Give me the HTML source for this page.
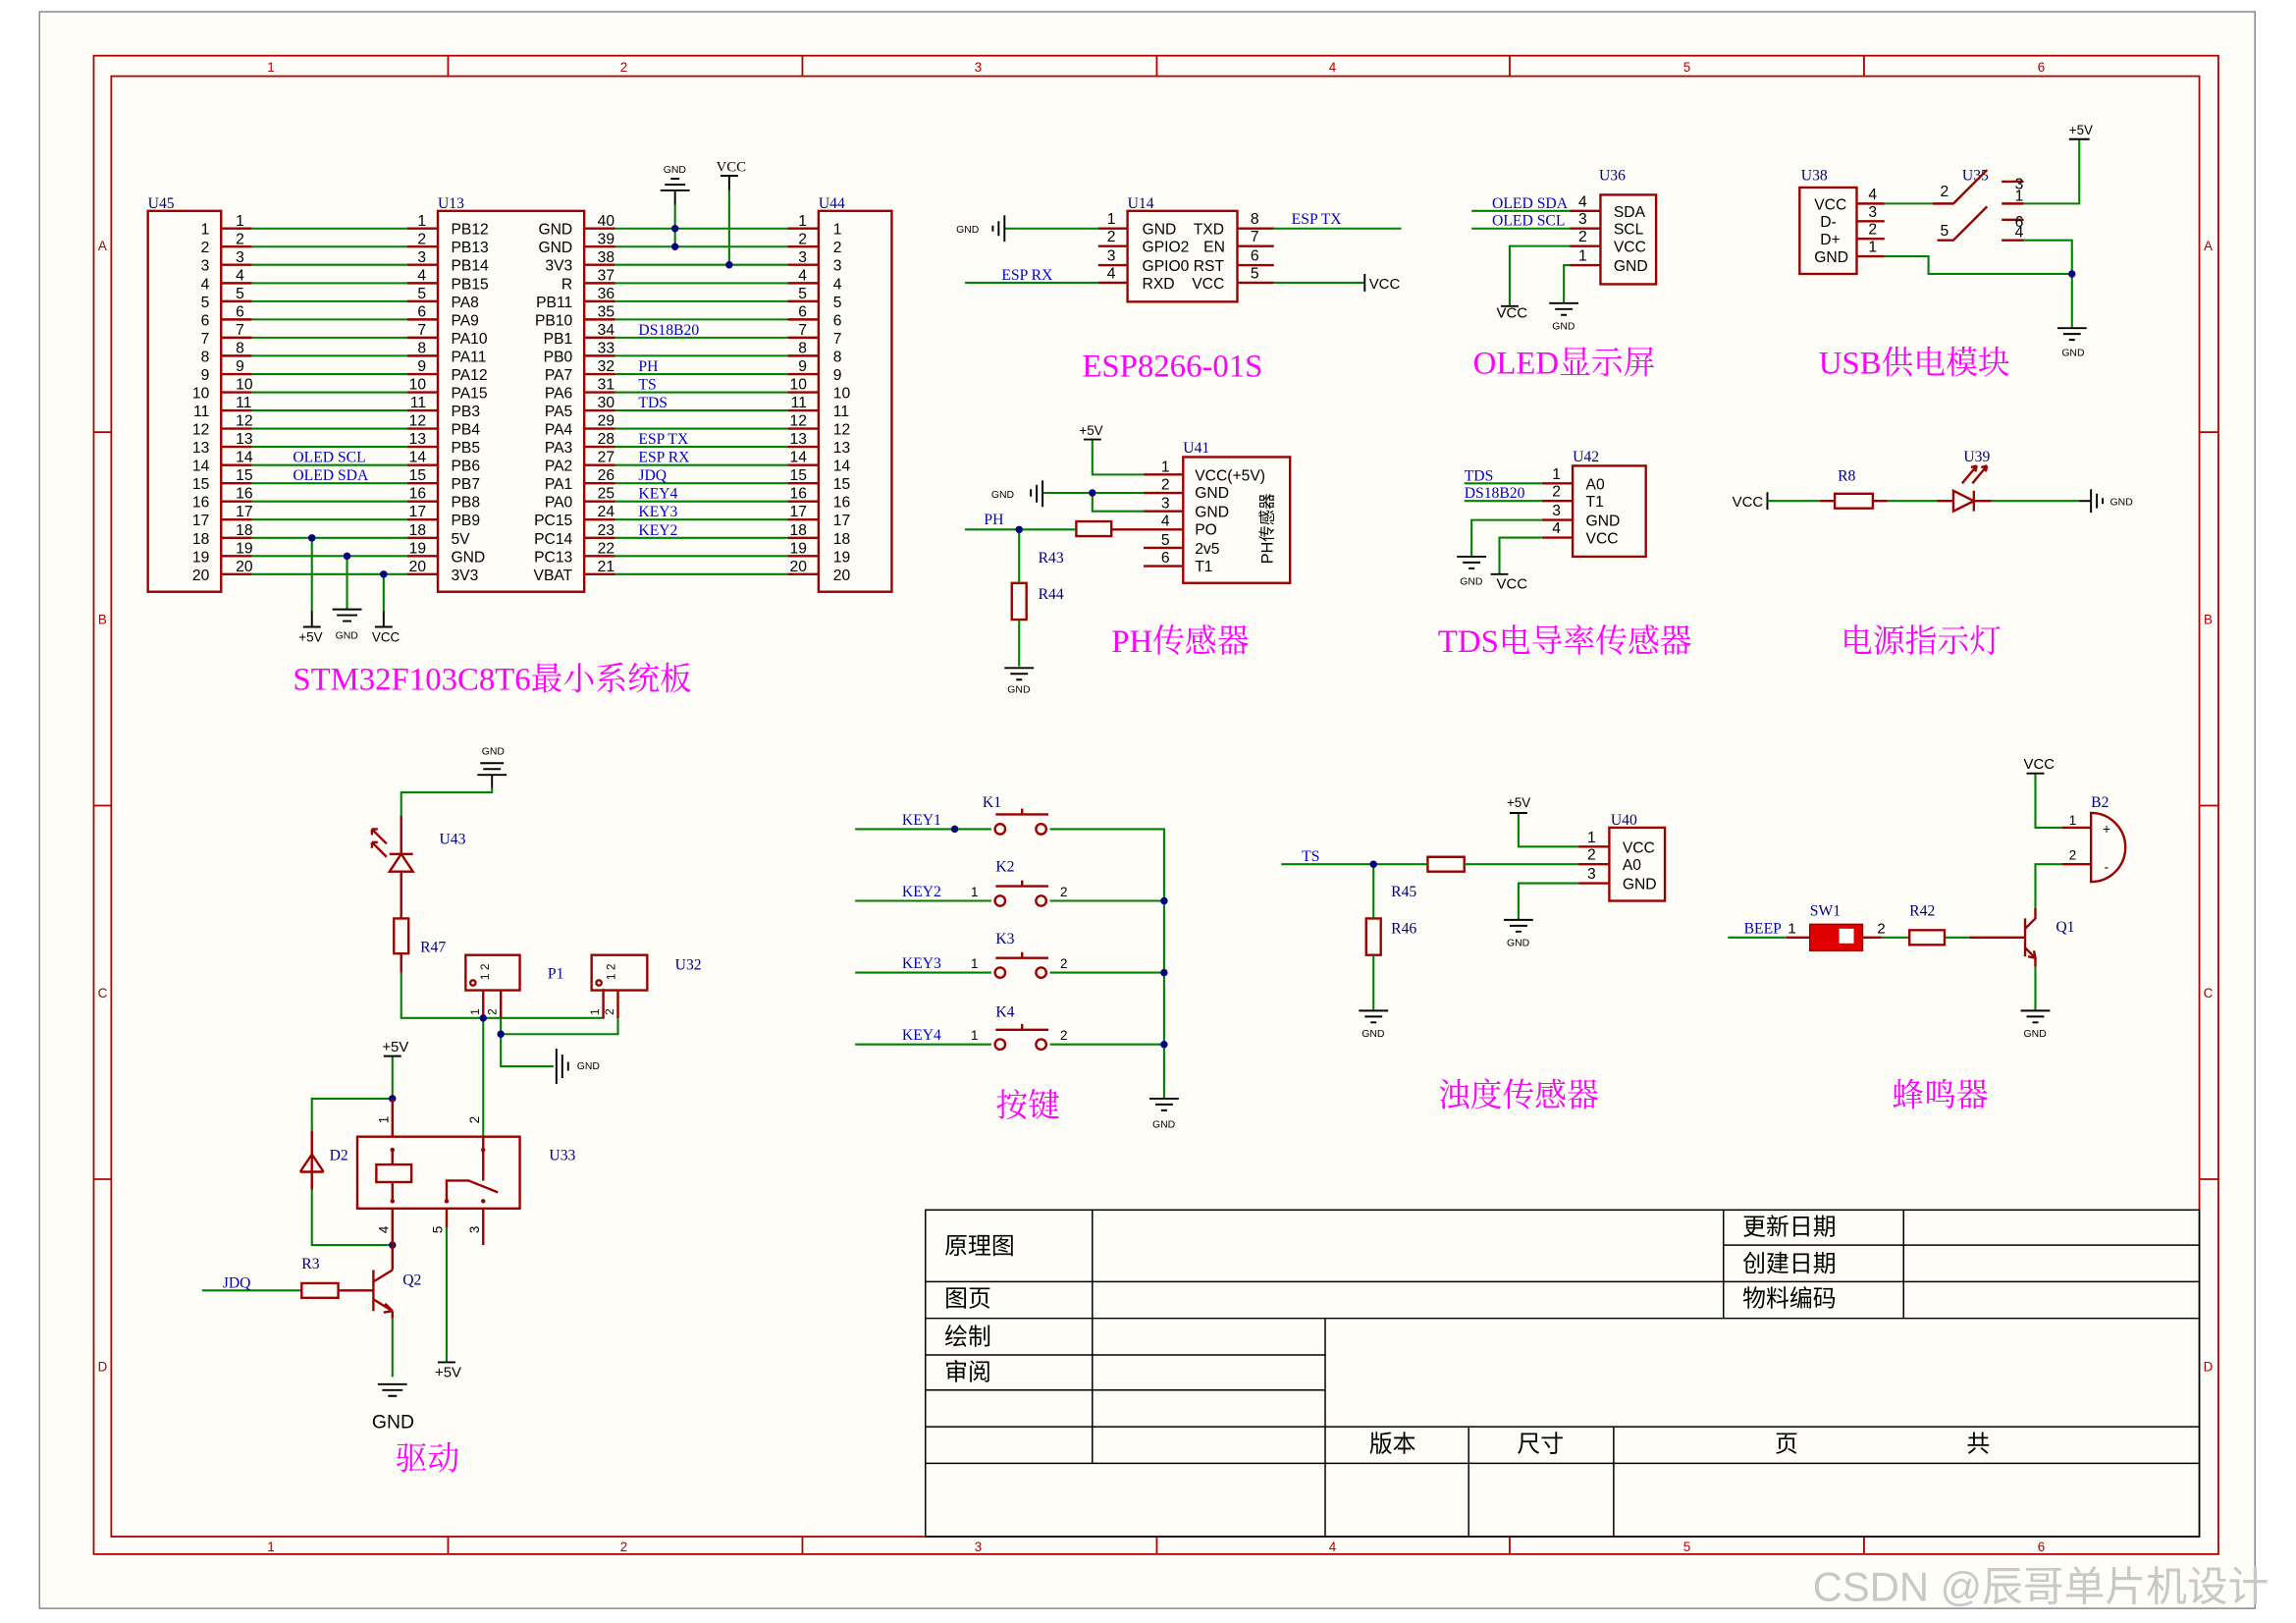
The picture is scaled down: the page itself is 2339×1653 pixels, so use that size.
<!DOCTYPE html>
<html><head><meta charset="utf-8"><style>
html,body{margin:0;padding:0;background:#fff}
svg{display:block}
text{font-family:"Liberation Sans","Noto Sans CJK SC",sans-serif;font-size:10.5px;fill:#000}
.e{text-anchor:end}
.n{font-family:"Liberation Serif","Noto Serif CJK SC",serif;fill:#0000c8;font-size:10.5px}
.lb{font-family:"Liberation Serif","Noto Serif CJK SC",serif;fill:#000080;font-size:10.5px}
.t{font-family:"Liberation Serif","Noto Serif CJK SC",serif;fill:#ff00ff;font-size:22px}
.tb{font-family:"Liberation Sans","Noto Sans CJK SC",sans-serif;font-size:16px;fill:#000}
.s{font-size:7px}
.r{stroke:#9b0000;stroke-width:1.6;fill:none}
.g{stroke:#008000;stroke-width:1.4;fill:none}
.k{stroke:#000;stroke-width:1.3;fill:none}
.fr{stroke:#b00000;stroke-width:1.2;fill:none}
.j{fill:#000080}
</style></head><body>
<svg width="2339" height="1653" viewBox="0 0 1568 1108" preserveAspectRatio="none" xmlns="http://www.w3.org/2000/svg">
<rect width="1568" height="1108" fill="#fff"/>
<rect x="27" y="8" width="1513" height="1090" fill="#fffdf8" stroke="#888" stroke-width="1"/>
<!-- frame -->
<rect x="64" y="38" width="1451" height="1023" class="fr"/>
<rect x="76" y="52" width="1426" height="997" class="fr"/>
<path class="fr" d="M306 38v14M548 38v14M790 38v14M1031 38v14M1273 38v14M306 1049v12M548 1049v12M790 1049v12M1031 1049v12M1273 1049v12M64 295h12M64 550h12M64 805h12M1502 295h13M1502 550h13M1502 805h13"/>
<g style="font-size:9px;fill:#b00000" text-anchor="middle">
<text x="185" y="49" style="fill:#b00000;font-size:9px">1</text><text x="426" y="49" style="fill:#b00000;font-size:9px">2</text><text x="668" y="49" style="fill:#b00000;font-size:9px">3</text><text x="910" y="49" style="fill:#b00000;font-size:9px">4</text><text x="1152" y="49" style="fill:#b00000;font-size:9px">5</text><text x="1394" y="49" style="fill:#b00000;font-size:9px">6</text>
<text x="185" y="1059" style="fill:#b00000;font-size:9px">1</text><text x="426" y="1059" style="fill:#b00000;font-size:9px">2</text><text x="668" y="1059" style="fill:#b00000;font-size:9px">3</text><text x="910" y="1059" style="fill:#b00000;font-size:9px">4</text><text x="1152" y="1059" style="fill:#b00000;font-size:9px">5</text><text x="1394" y="1059" style="fill:#b00000;font-size:9px">6</text>
<text x="70" y="171" style="fill:#b00000;font-size:9px">A</text><text x="70" y="426" style="fill:#b00000;font-size:9px">B</text><text x="70" y="681" style="fill:#b00000;font-size:9px">C</text><text x="70" y="936" style="fill:#b00000;font-size:9px">D</text>
<text x="1508" y="171" style="fill:#b00000;font-size:9px">A</text><text x="1508" y="426" style="fill:#b00000;font-size:9px">B</text><text x="1508" y="681" style="fill:#b00000;font-size:9px">C</text><text x="1508" y="936" style="fill:#b00000;font-size:9px">D</text>
</g>

<!-- MCU section -->
<rect x="101" y="144" width="50" height="260" class="r"/>
<rect x="299" y="144" width="100" height="260" class="r"/>
<rect x="559" y="144" width="50" height="260" class="r"/>
<text x="101" y="142" class="lb">U45</text><text x="299" y="142" class="lb">U13</text><text x="559" y="142" class="lb">U44</text>
<g id="rows">
<g transform="translate(0,156)"><path class="r" d="M151 0h21M278 0h21M399 0h21M538 0h21"/><path class="g" d="M172 0h106M420 0h118"/><text x="143" y="4" class="e">1</text><text x="161" y="-2">1</text><text x="291" y="-2" class="e">1</text><text x="308" y="4">PB12</text><text x="391" y="4" class="e">GND</text><text x="408" y="-2">40</text><text x="551" y="-2" class="e">1</text><text x="569" y="4">1</text></g>
<g transform="translate(0,168.4)"><path class="r" d="M151 0h21M278 0h21M399 0h21M538 0h21"/><path class="g" d="M172 0h106M420 0h118"/><text x="143" y="4" class="e">2</text><text x="161" y="-2">2</text><text x="291" y="-2" class="e">2</text><text x="308" y="4">PB13</text><text x="391" y="4" class="e">GND</text><text x="408" y="-2">39</text><text x="551" y="-2" class="e">2</text><text x="569" y="4">2</text></g>
<g transform="translate(0,180.8)"><path class="r" d="M151 0h21M278 0h21M399 0h21M538 0h21"/><path class="g" d="M172 0h106M420 0h118"/><text x="143" y="4" class="e">3</text><text x="161" y="-2">3</text><text x="291" y="-2" class="e">3</text><text x="308" y="4">PB14</text><text x="391" y="4" class="e">3V3</text><text x="408" y="-2">38</text><text x="551" y="-2" class="e">3</text><text x="569" y="4">3</text></g>
<g transform="translate(0,193.3)"><path class="r" d="M151 0h21M278 0h21M399 0h21M538 0h21"/><path class="g" d="M172 0h106M420 0h118"/><text x="143" y="4" class="e">4</text><text x="161" y="-2">4</text><text x="291" y="-2" class="e">4</text><text x="308" y="4">PB15</text><text x="391" y="4" class="e">R</text><text x="408" y="-2">37</text><text x="551" y="-2" class="e">4</text><text x="569" y="4">4</text></g>
<g transform="translate(0,205.7)"><path class="r" d="M151 0h21M278 0h21M399 0h21M538 0h21"/><path class="g" d="M172 0h106M420 0h118"/><text x="143" y="4" class="e">5</text><text x="161" y="-2">5</text><text x="291" y="-2" class="e">5</text><text x="308" y="4">PA8</text><text x="391" y="4" class="e">PB11</text><text x="408" y="-2">36</text><text x="551" y="-2" class="e">5</text><text x="569" y="4">5</text></g>
<g transform="translate(0,218.1)"><path class="r" d="M151 0h21M278 0h21M399 0h21M538 0h21"/><path class="g" d="M172 0h106M420 0h118"/><text x="143" y="4" class="e">6</text><text x="161" y="-2">6</text><text x="291" y="-2" class="e">6</text><text x="308" y="4">PA9</text><text x="391" y="4" class="e">PB10</text><text x="408" y="-2">35</text><text x="551" y="-2" class="e">6</text><text x="569" y="4">6</text></g>
<g transform="translate(0,230.5)"><path class="r" d="M151 0h21M278 0h21M399 0h21M538 0h21"/><path class="g" d="M172 0h106M420 0h118"/><text x="143" y="4" class="e">7</text><text x="161" y="-2">7</text><text x="291" y="-2" class="e">7</text><text x="308" y="4">PA10</text><text x="391" y="4" class="e">PB1</text><text x="408" y="-2">34</text><text x="436" y="-2" class="n">DS18B20</text><text x="551" y="-2" class="e">7</text><text x="569" y="4">7</text></g>
<g transform="translate(0,242.9)"><path class="r" d="M151 0h21M278 0h21M399 0h21M538 0h21"/><path class="g" d="M172 0h106M420 0h118"/><text x="143" y="4" class="e">8</text><text x="161" y="-2">8</text><text x="291" y="-2" class="e">8</text><text x="308" y="4">PA11</text><text x="391" y="4" class="e">PB0</text><text x="408" y="-2">33</text><text x="551" y="-2" class="e">8</text><text x="569" y="4">8</text></g>
<g transform="translate(0,255.4)"><path class="r" d="M151 0h21M278 0h21M399 0h21M538 0h21"/><path class="g" d="M172 0h106M420 0h118"/><text x="143" y="4" class="e">9</text><text x="161" y="-2">9</text><text x="291" y="-2" class="e">9</text><text x="308" y="4">PA12</text><text x="391" y="4" class="e">PA7</text><text x="408" y="-2">32</text><text x="436" y="-2" class="n">PH</text><text x="551" y="-2" class="e">9</text><text x="569" y="4">9</text></g>
<g transform="translate(0,267.8)"><path class="r" d="M151 0h21M278 0h21M399 0h21M538 0h21"/><path class="g" d="M172 0h106M420 0h118"/><text x="143" y="4" class="e">10</text><text x="161" y="-2">10</text><text x="291" y="-2" class="e">10</text><text x="308" y="4">PA15</text><text x="391" y="4" class="e">PA6</text><text x="408" y="-2">31</text><text x="436" y="-2" class="n">TS</text><text x="551" y="-2" class="e">10</text><text x="569" y="4">10</text></g>
<g transform="translate(0,280.2)"><path class="r" d="M151 0h21M278 0h21M399 0h21M538 0h21"/><path class="g" d="M172 0h106M420 0h118"/><text x="143" y="4" class="e">11</text><text x="161" y="-2">11</text><text x="291" y="-2" class="e">11</text><text x="308" y="4">PB3</text><text x="391" y="4" class="e">PA5</text><text x="408" y="-2">30</text><text x="436" y="-2" class="n">TDS</text><text x="551" y="-2" class="e">11</text><text x="569" y="4">11</text></g>
<g transform="translate(0,292.6)"><path class="r" d="M151 0h21M278 0h21M399 0h21M538 0h21"/><path class="g" d="M172 0h106M420 0h118"/><text x="143" y="4" class="e">12</text><text x="161" y="-2">12</text><text x="291" y="-2" class="e">12</text><text x="308" y="4">PB4</text><text x="391" y="4" class="e">PA4</text><text x="408" y="-2">29</text><text x="551" y="-2" class="e">12</text><text x="569" y="4">12</text></g>
<g transform="translate(0,305)"><path class="r" d="M151 0h21M278 0h21M399 0h21M538 0h21"/><path class="g" d="M172 0h106M420 0h118"/><text x="143" y="4" class="e">13</text><text x="161" y="-2">13</text><text x="291" y="-2" class="e">13</text><text x="308" y="4">PB5</text><text x="391" y="4" class="e">PA3</text><text x="408" y="-2">28</text><text x="436" y="-2" class="n">ESP TX</text><text x="551" y="-2" class="e">13</text><text x="569" y="4">13</text></g>
<g transform="translate(0,317.5)"><path class="r" d="M151 0h21M278 0h21M399 0h21M538 0h21"/><path class="g" d="M172 0h106M420 0h118"/><text x="143" y="4" class="e">14</text><text x="161" y="-2">14</text><text x="200" y="-2" class="n">OLED SCL</text><text x="291" y="-2" class="e">14</text><text x="308" y="4">PB6</text><text x="391" y="4" class="e">PA2</text><text x="408" y="-2">27</text><text x="436" y="-2" class="n">ESP RX</text><text x="551" y="-2" class="e">14</text><text x="569" y="4">14</text></g>
<g transform="translate(0,329.9)"><path class="r" d="M151 0h21M278 0h21M399 0h21M538 0h21"/><path class="g" d="M172 0h106M420 0h118"/><text x="143" y="4" class="e">15</text><text x="161" y="-2">15</text><text x="200" y="-2" class="n">OLED SDA</text><text x="291" y="-2" class="e">15</text><text x="308" y="4">PB7</text><text x="391" y="4" class="e">PA1</text><text x="408" y="-2">26</text><text x="436" y="-2" class="n">JDQ</text><text x="551" y="-2" class="e">15</text><text x="569" y="4">15</text></g>
<g transform="translate(0,342.3)"><path class="r" d="M151 0h21M278 0h21M399 0h21M538 0h21"/><path class="g" d="M172 0h106M420 0h118"/><text x="143" y="4" class="e">16</text><text x="161" y="-2">16</text><text x="291" y="-2" class="e">16</text><text x="308" y="4">PB8</text><text x="391" y="4" class="e">PA0</text><text x="408" y="-2">25</text><text x="436" y="-2" class="n">KEY4</text><text x="551" y="-2" class="e">16</text><text x="569" y="4">16</text></g>
<g transform="translate(0,354.7)"><path class="r" d="M151 0h21M278 0h21M399 0h21M538 0h21"/><path class="g" d="M172 0h106M420 0h118"/><text x="143" y="4" class="e">17</text><text x="161" y="-2">17</text><text x="291" y="-2" class="e">17</text><text x="308" y="4">PB9</text><text x="391" y="4" class="e">PC15</text><text x="408" y="-2">24</text><text x="436" y="-2" class="n">KEY3</text><text x="551" y="-2" class="e">17</text><text x="569" y="4">17</text></g>
<g transform="translate(0,367.2)"><path class="r" d="M151 0h21M278 0h21M399 0h21M538 0h21"/><path class="g" d="M172 0h106M420 0h118"/><text x="143" y="4" class="e">18</text><text x="161" y="-2">18</text><text x="291" y="-2" class="e">18</text><text x="308" y="4">5V</text><text x="391" y="4" class="e">PC14</text><text x="408" y="-2">23</text><text x="436" y="-2" class="n">KEY2</text><text x="551" y="-2" class="e">18</text><text x="569" y="4">18</text></g>
<g transform="translate(0,379.6)"><path class="r" d="M151 0h21M278 0h21M399 0h21M538 0h21"/><path class="g" d="M172 0h106M420 0h118"/><text x="143" y="4" class="e">19</text><text x="161" y="-2">19</text><text x="291" y="-2" class="e">19</text><text x="308" y="4">GND</text><text x="391" y="4" class="e">PC13</text><text x="408" y="-2">22</text><text x="551" y="-2" class="e">19</text><text x="569" y="4">19</text></g>
<g transform="translate(0,392)"><path class="r" d="M151 0h21M278 0h21M399 0h21M538 0h21"/><path class="g" d="M172 0h106M420 0h118"/><text x="143" y="4" class="e">20</text><text x="161" y="-2">20</text><text x="291" y="-2" class="e">20</text><text x="308" y="4">3V3</text><text x="391" y="4" class="e">VBAT</text><text x="408" y="-2">21</text><text x="551" y="-2" class="e">20</text><text x="569" y="4">20</text></g>
</g>
<!-- top GND/VCC -->
<path class="k" d="M451 130h20M454 126h14M458 122h6M461 130v10M498 120v10"/>
<path class="g" d="M461 140v28.4M498 130v50.8"/>
<text x="453" y="118" class="s">GND</text><text x="489" y="117" class="lb" style="font-size:10px;fill:#000">VCC</text>
<path class="k" d="M492 120h12"/>
<circle cx="461" cy="156" r="2.5" class="j"/><circle cx="461" cy="168.4" r="2.5" class="j"/><circle cx="498" cy="180.8" r="2.5" class="j"/>
<!-- bottom -->
<path class="g" d="M213 367.2v50M237 379.6v36M262 392v25"/>
<circle cx="213" cy="367.2" r="2.5" class="j"/><circle cx="237" cy="379.6" r="2.5" class="j"/><circle cx="262" cy="392" r="2.5" class="j"/>
<path class="k" d="M213 417v11M207 428h12M227 416h20M230 420h14M234 424h6M262 417v11M256 428h12"/>
<text x="204" y="438" style="font-size:9px">+5V</text><text x="229" y="436" class="s">GND</text><text x="254" y="438" style="font-size:9px">VCC</text>
<text x="200" y="471" class="t">STM32F103C8T6最小系统板</text>

<!-- ESP8266 -->
<text x="770" y="142" class="lb">U14</text>
<rect x="770" y="144" width="75" height="62" class="r"/>
<path class="r" d="M750 156h20M750 168h20M750 181h20M750 193h20M845 156h25M845 168h25M845 181h25M845 193h25"/>
<path class="g" d="M686 156h64M659 193h91M870 156h87M870 193h62"/>
<path class="k" d="M686 147v18M682 151v10M678 154v4M932 187v12"/>
<text x="653" y="159" class="s">GND</text><text x="935" y="197" style="font-size:10px">VCC</text>
<text x="756" y="153">1</text><text x="756" y="165">2</text><text x="756" y="178">3</text><text x="756" y="190">4</text>
<text x="854" y="153">8</text><text x="854" y="165">7</text><text x="854" y="178">6</text><text x="854" y="190">5</text>
<text x="780" y="160">GND</text><text x="815" y="160">TXD</text><text x="780" y="172">GPIO2</text><text x="822" y="172">EN</text><text x="780" y="185">GPIO0</text><text x="815" y="185">RST</text><text x="780" y="197">RXD</text><text x="814" y="197">VCC</text>
<text x="684" y="191" class="n">ESP RX</text><text x="882" y="153" class="n">ESP TX</text>
<text x="739" y="257" class="t">ESP8266-01S</text>

<!-- OLED -->
<text x="1092" y="123" class="lb">U36</text>
<rect x="1093" y="133" width="38" height="61" class="r"/>
<path class="r" d="M1072 144h21M1072 156h21M1072 168h21M1072 181h21"/>
<path class="g" d="M1005 144h67M1005 156h67M1072 168h-41v41M1072 181h-4v26"/>
<path class="k" d="M1025 209h12M1058 207h20M1062 211h12M1066 215h4"/>
<text x="1019" y="142" class="n">OLED SDA</text><text x="1019" y="154" class="n">OLED SCL</text>
<text x="1078" y="141">4</text><text x="1078" y="153">3</text><text x="1078" y="165">2</text><text x="1078" y="178">1</text>
<text x="1102" y="148">SDA</text><text x="1102" y="160">SCL</text><text x="1102" y="172">VCC</text><text x="1102" y="185">GND</text>
<text x="1022" y="217" style="font-size:10px">VCC</text><text x="1060" y="225" class="s">GND</text>
<text x="1006" y="255" class="t">OLED显示屏</text>

<!-- USB -->
<text x="1230" y="123" class="lb">U38</text><text x="1340" y="123" class="lb">U35</text>
<rect x="1229" y="128" width="39" height="59" class="r"/>
<path class="r" d="M1268 139h19M1268 151h19M1268 163h19M1268 175h19M1320 139h14l23-23M1323 164h11l23-23M1367 124h15M1367 139h15M1367 150h15M1367 164h15"/>
<path class="g" d="M1287 139h33M1382 139h38V95M1382 164h33v60M1287 175h30v12h98"/>
<circle cx="1415" cy="187" r="2.5" class="j"/>
<path class="k" d="M1413 95h14M1405 224h20M1409 228h12M1413 232h4"/>
<text x="1413" y="92" style="font-size:9px">+5V</text><text x="1408" y="243" class="s">GND</text>
<text x="1239" y="143">VCC</text><text x="1243" y="155">D-</text><text x="1243" y="167">D+</text><text x="1239" y="179">GND</text>
<text x="1276" y="136">4</text><text x="1276" y="148">3</text><text x="1276" y="160">2</text><text x="1276" y="172">1</text>
<text x="1325" y="134">2</text><text x="1325" y="161">5</text><text x="1376" y="129">3</text><text x="1376" y="137">1</text><text x="1376" y="155">6</text><text x="1376" y="162">4</text>
<text x="1242" y="255" class="t">USB供电模块</text>

<!-- PH -->
<text x="808" y="309" class="lb">U41</text>
<rect x="808" y="312" width="73" height="86" class="r"/>
<path class="r" d="M781 324h27M781 336.5h27M781 349h27M781 361.5h27M781 374h27M781 386.5h27M735 356h24v10h-24zM759 361.5h22M691 398h10v25h-10z"/>
<path class="g" d="M746 300v24h35M712 336.5h69M746 336.5v12.5h35M659 361.5h76M696 361.5v36.5M696 423v32"/>
<circle cx="746" cy="336.5" r="2.5" class="j"/><circle cx="696" cy="361.5" r="2.5" class="j"/>
<path class="k" d="M740 300h12M712 328v18M708 331v12M704 334v5M686 456h20M690 460h12M694 464h4"/>
<text x="737" y="297" style="font-size:9px">+5V</text><text x="677" y="340" class="s">GND</text><text x="688" y="473" class="s">GND</text>
<text x="793" y="322">1</text><text x="793" y="334">2</text><text x="793" y="347">3</text><text x="793" y="359">4</text><text x="793" y="372">5</text><text x="793" y="384">6</text>
<text x="816" y="328">VCC(+5V)</text><text x="816" y="340">GND</text><text x="816" y="353">GND</text><text x="816" y="365">PO</text><text x="816" y="378">2v5</text><text x="816" y="390">T1</text>
<text transform="translate(869,385) rotate(-90)" style="font-size:11px">PH传感器</text>
<text x="672" y="358" class="n">PH</text><text x="709" y="384" class="lb">R43</text><text x="709" y="409" class="lb">R44</text>
<text x="759" y="445" class="t">PH传感器</text>

<!-- TDS -->
<text x="1074" y="315" class="lb">U42</text>
<rect x="1074" y="318" width="50" height="62" class="r"/>
<path class="r" d="M1053 330h21M1053 342h21M1053 355h21M1053 367h21"/>
<path class="g" d="M1000 330h53M1000 342h53M1053 355h-48v25M1053 367h-29v25"/>
<path class="k" d="M995 380h20M999 384h12M1003 388h4M1018 392h12"/>
<text x="1000" y="328" class="n">TDS</text><text x="1000" y="340" class="n">DS18B20</text>
<text x="1060" y="327">1</text><text x="1060" y="339">2</text><text x="1060" y="352">3</text><text x="1060" y="364">4</text>
<text x="1083" y="334">A0</text><text x="1083" y="346">T1</text><text x="1083" y="359">GND</text><text x="1083" y="371">VCC</text>
<text x="997" y="399" class="s">GND</text><text x="1022" y="402" style="font-size:10px">VCC</text>
<text x="982" y="445" class="t">TDS电导率传感器</text>

<!-- power LED -->
<path class="k" d="M1207 336v12M1428 334v16M1432 337v10M1436 340v4"/>
<path class="g" d="M1207 342h36M1289 342h34M1360 342h60"/>
<path class="r" d="M1243 342h10M1253 337h26v10h-26zM1279 342h10M1323 342h11M1348 342h12M1334 335v14l14-7zM1348 335v14M1340 330l10-12M1347 330l10-12M1350 318l-4 1M1350 318l-1 4M1357 318l-4 1M1357 318l-1 4"/>
<path class="k" d="M1420 342h8"/>
<text x="1183" y="346" style="font-size:10px">VCC</text><text x="1441" y="345" class="s">GND</text>
<text x="1255" y="328" class="lb">R8</text><text x="1341" y="315" class="lb">U39</text>
<text x="1257" y="445" class="t">电源指示灯</text>

<!-- Driver -->
<path class="k" d="M328 521h16M330 525h12M334 529h4M326 529h20M336 529v9"/>
<text x="329" y="515" class="s">GND</text>
<path class="g" d="M336 538v3H274v16M274 595v8M274 664v31h138v-20M342 676v30h80v-30M342 706v22h36M268 721v29h-55v38M213 800v50h55M330 695v81M305 838v92M268 900v40M138 881h68"/>
<path class="r" d="M274 557v26M266 583h16M266 595h16l-8-12zM274 595v13M274 608v6M269 627h10v24h-10zM274 614v13M274 651v13M254 566l10 10M254 575l10 10M254 566h4M254 566v4M254 575h4M254 575v4"/>
<path class="r" d="M318 652h37v24h-37zM404 652h38v24h-38zM330 676v19M342 676v19M412 676v19M422 676v19"/>
<circle cx="323" cy="671" r="1.8" class="r"/><circle cx="409" cy="671" r="1.8" class="r"/>
<circle cx="330" cy="695" r="2.5" class="j"/><circle cx="342" cy="706" r="2.5" class="j"/><circle cx="268" cy="750" r="2.5" class="j"/><circle cx="268" cy="850" r="2.5" class="j"/>
<path class="k" d="M380 716v24M384 720v16M388 725v6M262 721h12M299 930h12M258 945h20M261 949h14M265 953h6"/>
<text x="394" y="730" class="s">GND</text><text x="261" y="718" style="font-size:10px">+5V</text><text x="297" y="940" style="font-size:10px">+5V</text><text x="254" y="975" style="font-size:13px">GND</text>
<path class="r" d="M268 750v26M244 776h111v49H244zM268 785v10M257 795h24v12h-24zM268 807v13M330 776v30M305 820v-14h15l20 8M268 825v25M305 825v13M330 825v25M205 800h16M213 788v12M205 800l8-12 8 12M213 772v16M213 800v12M231 881h24M255 867v28M255 875l13-8M268 867v-17M255 887l13 8M268 895v5M268 895l-5-5M268 895l-6 1M206 876h25v10h-25z"/>
<circle cx="268" cy="785" r="1.5" fill="#9b0000"/><circle cx="268" cy="820" r="1.5" fill="#9b0000"/><circle cx="330" cy="785" r="1.5" fill="#9b0000"/><circle cx="305" cy="820" r="1.5" fill="#9b0000"/><circle cx="330" cy="820" r="1.5" fill="#9b0000"/>
<text x="300" y="576" class="lb">U43</text><text x="287" y="650" class="lb">R47</text><text x="374" y="668" class="lb">P1</text><text x="461" y="662" class="lb">U32</text><text x="375" y="792" class="lb">U33</text><text x="225" y="792" class="lb">D2</text><text x="206" y="866" class="lb">R3</text><text x="275" y="877" class="lb">Q2</text><text x="152" y="879" class="n">JDQ</text>
<g style="font-size:8px"><text transform="translate(334,669) rotate(-90)" style="font-size:8px">1 2</text><text transform="translate(420,669) rotate(-90)" style="font-size:8px">1 2</text><text transform="translate(327,693) rotate(-90)" style="font-size:8px">1</text><text transform="translate(339,693) rotate(-90)" style="font-size:8px">2</text><text transform="translate(409,693) rotate(-90)" style="font-size:8px">1</text><text transform="translate(419,693) rotate(-90)" style="font-size:8px">2</text><text transform="translate(265,767) rotate(-90)" style="font-size:9px">1</text><text transform="translate(327,767) rotate(-90)" style="font-size:9px">2</text><text transform="translate(265,842) rotate(-90)" style="font-size:9px">4</text><text transform="translate(302,842) rotate(-90)" style="font-size:9px">5</text><text transform="translate(327,842) rotate(-90)" style="font-size:9px">3</text></g>
<text x="270" y="1003" class="t">驱动</text>

<!-- Keys -->
<path class="g" d="M584 566h93M584 615h93M584 664h93M584 713h93M717 566h78v184M717 615h78M717 664h78M717 713h78"/>
<g class="r"><circle cx="683" cy="566" r="3.5"/><circle cx="711" cy="566" r="3.5"/><path d="M680 556h36M698 556v-4"/>
<circle cx="683" cy="615" r="3.5"/><circle cx="711" cy="615" r="3.5"/><path d="M680 605h36M698 605v-4"/>
<circle cx="683" cy="664" r="3.5"/><circle cx="711" cy="664" r="3.5"/><path d="M680 654h36M698 654v-4"/>
<circle cx="683" cy="713" r="3.5"/><circle cx="711" cy="713" r="3.5"/><path d="M680 703h36M698 703v-4"/></g>
<circle cx="652" cy="566" r="2.5" class="j"/><circle cx="795" cy="615" r="2.5" class="j"/><circle cx="795" cy="664" r="2.5" class="j"/><circle cx="795" cy="713" r="2.5" class="j"/>
<path class="k" d="M785 750h20M789 754h12M793 758h4"/>
<text x="787" y="770" class="s">GND</text>
<text x="616" y="563" class="n">KEY1</text><text x="616" y="612" class="n">KEY2</text><text x="616" y="661" class="n">KEY3</text><text x="616" y="710" class="n">KEY4</text>
<text x="671" y="551" class="lb">K1</text><text x="680" y="595" class="lb">K2</text><text x="680" y="644" class="lb">K3</text><text x="680" y="694" class="lb">K4</text>
<text x="663" y="612" style="font-size:9px">1</text><text x="724" y="612" style="font-size:9px">2</text><text x="663" y="661" style="font-size:9px">1</text><text x="724" y="661" style="font-size:9px">2</text><text x="663" y="710" style="font-size:9px">1</text><text x="724" y="710" style="font-size:9px">2</text>
<text x="680" y="762" class="t">按键</text>

<!-- Turbidity -->
<text x="1100" y="563" class="lb">U40</text>
<rect x="1099" y="565" width="38" height="50" class="r"/>
<path class="r" d="M1078 578h21M1078 590h21M1078 603h21M975 585h25v10h-25zM933 627h10v25h-10z"/>
<path class="g" d="M1037 555v23h41M875 590h100M1000 590h78M938 590v37M938 652v38M1078 603h-41v25"/>
<circle cx="938" cy="590" r="2.5" class="j"/>
<path class="k" d="M1031 555h12M928 690h20M932 694h12M936 698h4M1027 628h20M1031 632h12M1035 636h4"/>
<text x="1029" y="551" style="font-size:9px">+5V</text><text x="930" y="708" class="s">GND</text><text x="1029" y="646" class="s">GND</text>
<text x="1084" y="575">1</text><text x="1084" y="587">2</text><text x="1084" y="600">3</text>
<text x="1108" y="582">VCC</text><text x="1108" y="594">A0</text><text x="1108" y="607">GND</text>
<text x="889" y="588" class="n">TS</text><text x="950" y="612" class="lb">R45</text><text x="950" y="637" class="lb">R46</text>
<text x="982" y="755" class="t">浊度传感器</text>

<!-- Buzzer -->
<path class="g" d="M1390 528v37h18M1408 590h-18v30M1180 640h40M1285 640h19M1328 640h17M1390 660v30"/>
<path class="r" d="M1408 565h20M1408 590h20M1428 555v47a23.5 23.5 0 0 0 0-47zM1220 640h16M1272 640h13M1304 635h24v10h-24zM1345 640h38M1383 627v26M1383 634l7-7v-7M1383 647l7 7v6M1390 654l-5-1M1390 654l-1-5"/>
<rect x="1236" y="631" width="36" height="18" fill="#e00000" stroke="#9b0000"/>
<rect x="1256" y="634" width="10" height="10" fill="#fff"/>
<path class="k" d="M1384 528h12M1380 690h20M1384 694h12M1388 698h4"/>
<text x="1382" y="525" style="font-size:10px">VCC</text><text x="1382" y="708" class="s">GND</text>
<text x="1413" y="563" style="font-size:9px">1</text><text x="1413" y="587" style="font-size:9px">2</text><text x="1436" y="569" style="font-size:9px">+</text><text x="1437" y="595" style="font-size:9px">-</text>
<text x="1428" y="551" class="lb">B2</text><text x="1404" y="636" class="lb">Q1</text><text x="1236" y="625" class="lb">SW1</text><text x="1304" y="625" class="lb">R42</text>
<text x="1191" y="637" class="n">BEEP</text><text x="1221" y="637" style="font-size:10px">1</text><text x="1282" y="637" style="font-size:10px">2</text>
<text x="1292" y="755" class="t">蜂鸣器</text>

<!-- title block -->
<g class="k" style="stroke-width:1">
<rect x="632" y="826" width="870" height="223"/>
<path d="M746 826v173M1177 826v74M1300 826v74M632 875h114M1177 850h325M632 875h870M632 900h870M632 925h273M632 949h273M632 974h870M632 999h870M905 900v149M1003 974v75M1102 974v75"/>
</g>
<text x="645" y="856" class="tb">原理图</text><text x="1190" y="843" class="tb">更新日期</text><text x="1190" y="868" class="tb">创建日期</text><text x="1190" y="892" class="tb">物料编码</text>
<text x="645" y="892" class="tb">图页</text><text x="645" y="918" class="tb">绘制</text><text x="645" y="942" class="tb">审阅</text>
<text x="935" y="991" class="tb">版本</text><text x="1036" y="991" class="tb">尺寸</text><text x="1212" y="991" class="tb">页</text><text x="1343" y="991" class="tb">共</text>
<text x="1238" y="1093" style="font-size:28px;fill:#c8c8c8">CSDN @辰哥单片机设计</text>
</svg>
</body></html>
